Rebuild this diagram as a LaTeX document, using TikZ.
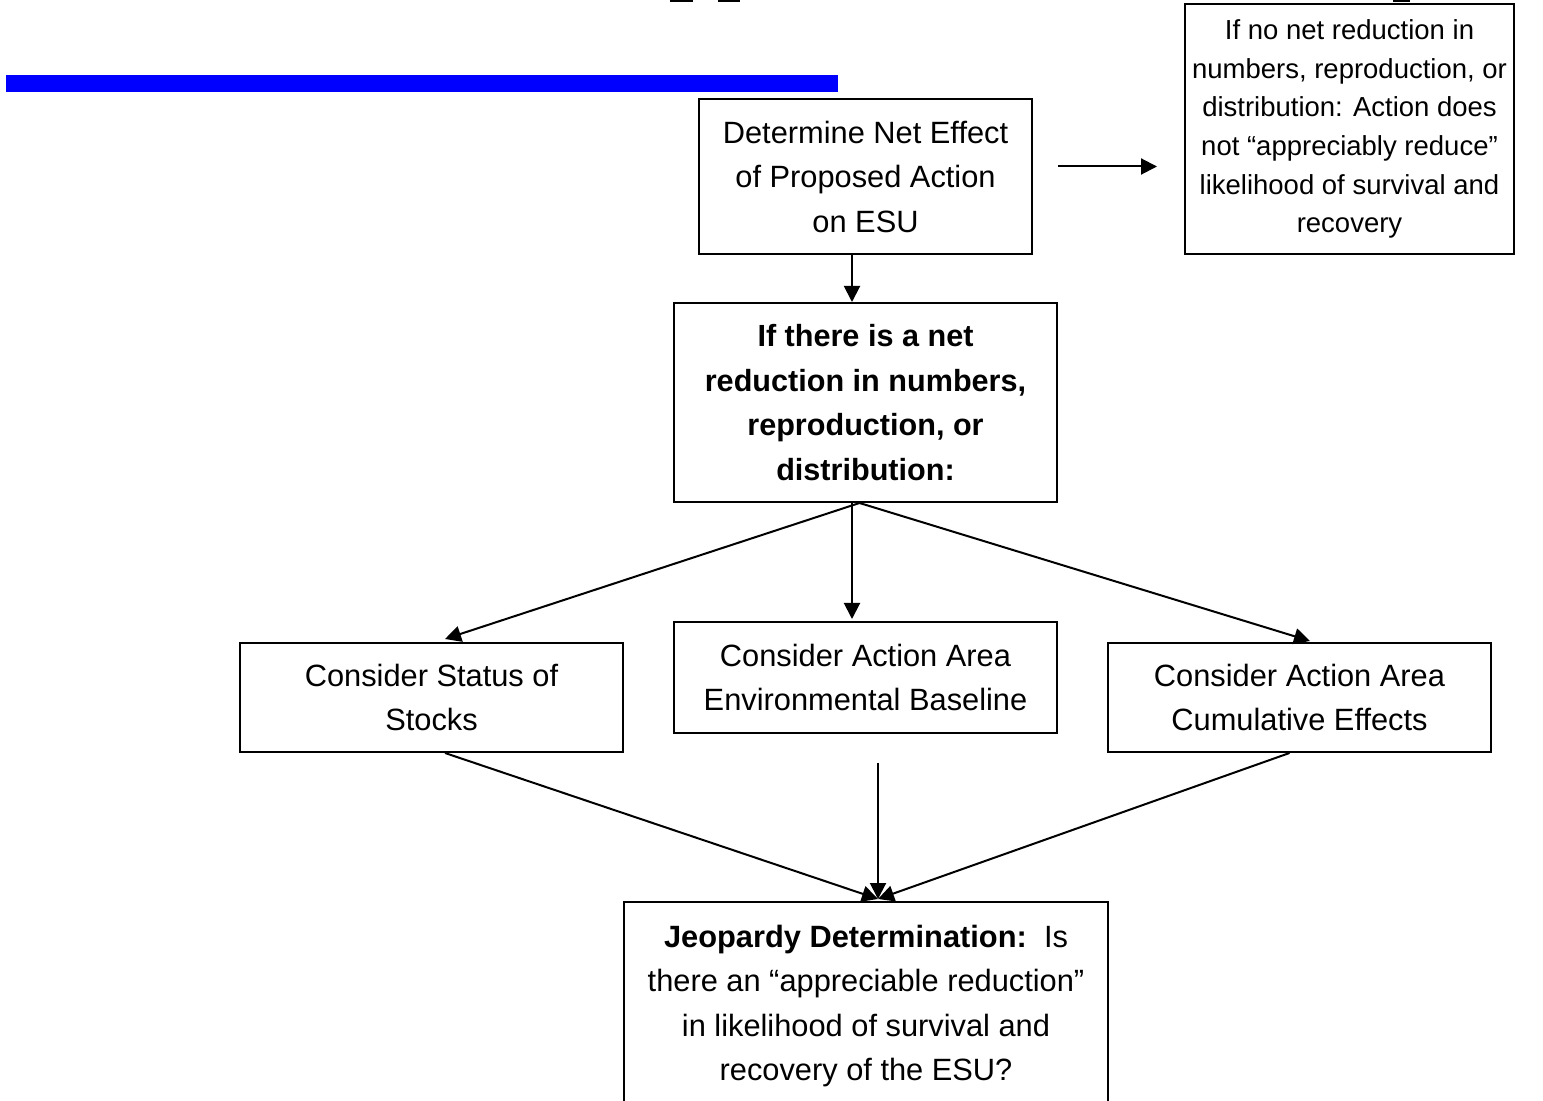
\documentclass[tikz,border=0pt]{standalone}
\usepackage{fontspec}
\setmainfont{Liberation Sans}
\usetikzlibrary{arrows.meta}
\definecolor{barblue}{RGB}{0,0,255}
\begin{document}
\begin{tikzpicture}[x=0.5pt, y=-0.5pt,
    box/.style={draw, line width=1pt, align=center, inner sep=0pt},
    big/.style={font=\fontsize{15.4}{22.25}\selectfont},
    small/.style={font=\fontsize{13.75}{19.3}\selectfont},
    arr/.style={-{Triangle[length=8pt,width=8pt]}, line width=1pt}]

\clip (0,0) rectangle (1543,1101);
\useasboundingbox (0,0) rectangle (1543,1101);

% bar and cut-off title
\fill[barblue] (6,75) rectangle (838,92);
\fill (670,0) rectangle (693,2.5);
\fill (718,0) rectangle (740,2.5);
\fill (1393,0) rectangle (1410,2.5);

% boxes
\node[box, big, minimum width=166.5pt, minimum height=77.5pt] (det) at (865.5,176.5)
    {Determine Net Effect\\ of Proposed Action\\ on ESU};
\node[box, small, minimum width=164.5pt, minimum height=125pt] (nonet) at (1349.5,129)
    {If no net reduction in\\ numbers, reproduction, or\\ distribution: Action does\\
     not “appreciably reduce”\\ likelihood of survival and\\ recovery};
\node[box, big, font=\bfseries\fontsize{15.3}{22.25}\selectfont, minimum width=191.5pt, minimum height=99.5pt] (net) at (865.5,402.5)
    {If there is a net\\ reduction in numbers,\\ reproduction, or\\ distribution:};
\node[box, big, minimum width=191.5pt, minimum height=54.5pt] (stocks) at (431.5,697.5)
    {Consider Status of\\ Stocks};
\node[box, big, minimum width=191.5pt, minimum height=55.5pt] (base) at (865.5,677.5)
    {Consider Action Area\\ Environmental Baseline};
\node[box, big, minimum width=191.5pt, minimum height=54.5pt] (cumul) at (1299.5,697.5)
    {Consider Action Area\\ Cumulative Effects};
\node[box, big, minimum width=242pt, minimum height=104pt] (jeop) at (866,1006)
    {\textbf{Jeopardy Determination:}\ \ Is\\ there an “appreciable reduction”\\
     in likelihood of survival and\\ recovery of the ESU?};

\coordinate (meet) at (878,899);

% connectors
\draw[arr, shorten <=12.5pt, shorten >=13.5pt] ([yshift=5pt]det.east) -- ([yshift=5pt]det.east -| nonet.west);
\draw[arr] ([xshift=-6.75pt]det.south) -- ([xshift=-6.75pt]net.north);
\draw[arr] ([xshift=-3pt]net.south) -- ([xshift=6.75pt, yshift=1.5pt]stocks.north);
\draw[arr] ([xshift=-6.75pt]net.south) -- ([xshift=-6.75pt, yshift=1pt]base.north);
\draw[arr] ([xshift=-3pt]net.south) -- ([xshift=5.25pt, yshift=0.5pt]cumul.north);
\draw[arr] ([xshift=6.75pt]stocks.south) -- (meet);
\draw[arr, shorten <=14.5pt] ([xshift=6.25pt]base.south) -- (meet);
\draw[arr] ([xshift=-5pt]cumul.south) -- (meet);

\end{tikzpicture}
\end{document}
